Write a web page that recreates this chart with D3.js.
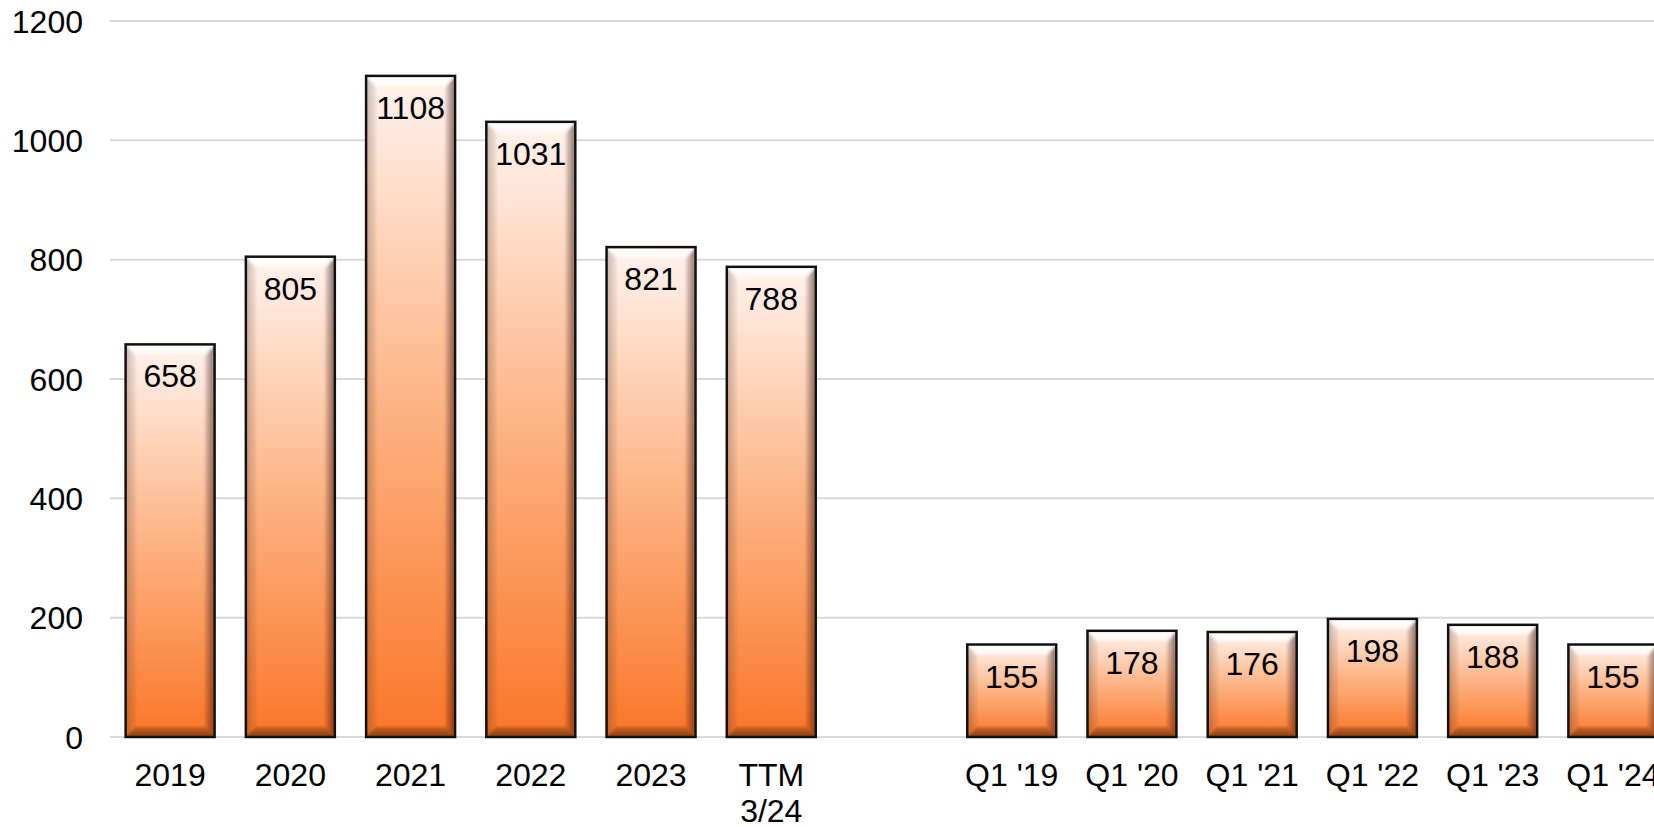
<!DOCTYPE html>
<html>
<head>
<meta charset="utf-8">
<script src="https://cdn.jsdelivr.net/npm/d3@7"></script>
<style>
  html, body { margin: 0; padding: 0; background: #ffffff; overflow: hidden; }
  svg { display: block; font-family: "Liberation Sans", Arial, sans-serif; }
</style>
</head>
<body>
<svg id="chart" width="1654" height="827"></svg>
<script>
// Annual totals and first-quarter figures
const annualLabels = ["2019", "2020", "2021", "2022", "2023", "TTM\n3/24"];
const annualValues = [658, 805, 1108, 1031, 821, 788];
const quarterLabels = ["Q1 '19", "Q1 '20", "Q1 '21", "Q1 '22", "Q1 '23", "Q1 '24"];
const quarterValues = [155, 178, 176, 198, 188, 155];
const yTicks = [0, 200, 400, 600, 800, 1000, 1200];

const gapKey = "__gap__";
const categories = [...annualLabels, gapKey, ...quarterLabels];
const bars = [
  ...annualLabels.map((k, i) => ({ key: k, value: annualValues[i] })),
  ...quarterLabels.map((k, i) => ({ key: k, value: quarterValues[i] }))
];

const svg = d3.select("#chart");
const plot = { left: 110, right: 1673, top: 21, bottom: 737 };
const fontSize = 32;

const x = d3.scaleBand()
  .domain(categories)
  .range([plot.left, plot.right])
  .paddingInner(0.26)
  .paddingOuter(0.13);

const y = d3.scaleLinear()
  .domain([0, 1200])
  .range([plot.bottom, plot.top]);

// Gradients for the bar face and the side bevels
const defs = svg.append("defs");
const face = defs.append("linearGradient").attr("id", "face")
  .attr("x1", 0).attr("y1", 0).attr("x2", 0).attr("y2", 1);
face.append("stop").attr("offset", "0%").attr("stop-color", "#fff3ee");
face.append("stop").attr("offset", "50%").attr("stop-color", "#fdb384");
face.append("stop").attr("offset", "100%").attr("stop-color", "#fa7628");

const rightG = defs.append("linearGradient").attr("id", "rightBevel")
  .attr("x1", 0).attr("y1", 0).attr("x2", 1).attr("y2", 0);
rightG.append("stop").attr("offset", "0%").attr("stop-color", "#2a0f00").attr("stop-opacity", 0.08);
rightG.append("stop").attr("offset", "100%").attr("stop-color", "#2a0f00").attr("stop-opacity", 0.55);

const leftG = defs.append("linearGradient").attr("id", "leftBevel")
  .attr("x1", 0).attr("y1", 0).attr("x2", 1).attr("y2", 0);
leftG.append("stop").attr("offset", "0%").attr("stop-color", "#3a2a20").attr("stop-opacity", 0.28);
leftG.append("stop").attr("offset", "100%").attr("stop-color", "#3a2a20").attr("stop-opacity", 0.06);

const topG = defs.append("linearGradient").attr("id", "topBevel")
  .attr("x1", 0).attr("y1", 0).attr("x2", 0).attr("y2", 1);
topG.append("stop").attr("offset", "0%").attr("stop-color", "#fff").attr("stop-opacity", 0.95);
topG.append("stop").attr("offset", "100%").attr("stop-color", "#fff").attr("stop-opacity", 0.6);

const bottomG = defs.append("linearGradient").attr("id", "bottomBevel")
  .attr("x1", 0).attr("y1", 0).attr("x2", 0).attr("y2", 1);
bottomG.append("stop").attr("offset", "0%").attr("stop-color", "#3a1500").attr("stop-opacity", 0.25);
bottomG.append("stop").attr("offset", "100%").attr("stop-color", "#3a1500").attr("stop-opacity", 0.6);

defs.append("filter").attr("id", "soft")
  .append("feGaussianBlur").attr("stdDeviation", 0.8);

// Horizontal gridlines
svg.append("g")
  .selectAll("line")
  .data(yTicks)
  .join("line")
  .attr("x1", plot.left)
  .attr("x2", plot.right)
  .attr("y1", d => y(d))
  .attr("y2", d => y(d))
  .attr("stroke", "#d9d9d9")
  .attr("stroke-width", 2);

// Y axis labels
svg.append("g")
  .selectAll("text")
  .data(yTicks)
  .join("text")
  .attr("x", 83)
  .attr("y", d => y(d))
  .attr("dy", "0.36em")
  .attr("text-anchor", "end")
  .attr("font-size", fontSize)
  .attr("fill", "#000")
  .text(d => d);

// Bevelled bars
const bevel = 10;
const barG = svg.append("g")
  .selectAll("g")
  .data(bars)
  .join("g")
  .attr("transform", d => `translate(${x(d.key)},${y(d.value)})`);

barG.each(function (d, i) {
  const g = d3.select(this);
  const w = x.bandwidth();
  const h = y(0) - y(d.value);
  const b = Math.min(bevel, h / 2);
  const clipId = "clip" + i;
  defs.append("clipPath").attr("id", clipId)
    .append("rect").attr("width", w).attr("height", h);

  g.append("rect").attr("width", w).attr("height", h).attr("fill", "url(#face)");

  const inner = g.append("g").attr("clip-path", `url(#${clipId})`)
    .append("g").attr("filter", "url(#soft)");
  const poly = (pts, fill) => inner.append("polygon")
    .attr("points", pts.map(p => p.join(",")).join(" "))
    .attr("fill", fill);
  poly([[0, 0], [w, 0], [w - b, b], [b, b]], "url(#topBevel)");
  poly([[0, 0], [b, b], [b, h - b], [0, h]], "url(#leftBevel)");
  poly([[w, 0], [w, h], [w - b, h - b], [w - b, b]], "url(#rightBevel)");
  poly([[0, h], [w, h], [w - b, h - b], [b, h - b]], "url(#bottomBevel)");

  g.append("rect").attr("width", w).attr("height", h)
    .attr("fill", "none").attr("stroke", "#111").attr("stroke-width", 2.5);

  g.append("text")
    .attr("x", w / 2)
    .attr("y", 43)
    .attr("text-anchor", "middle")
    .attr("font-size", fontSize)
    .attr("fill", "#000")
    .text(d.value);
});

// Category labels beneath the bars
const xLabels = svg.append("g")
  .selectAll("text")
  .data(categories.filter(c => c !== gapKey))
  .join("text")
  .attr("x", d => x(d) + x.bandwidth() / 2)
  .attr("y", plot.bottom + 49)
  .attr("text-anchor", "middle")
  .attr("font-size", fontSize)
  .attr("fill", "#000");

xLabels.each(function (d) {
  const t = d3.select(this);
  d.split("\n").forEach((line, j) => {
    t.append("tspan")
      .attr("x", x(d) + x.bandwidth() / 2)
      .attr("dy", j === 0 ? 0 : 36)
      .text(line);
  });
});
</script>
</body>
</html>
